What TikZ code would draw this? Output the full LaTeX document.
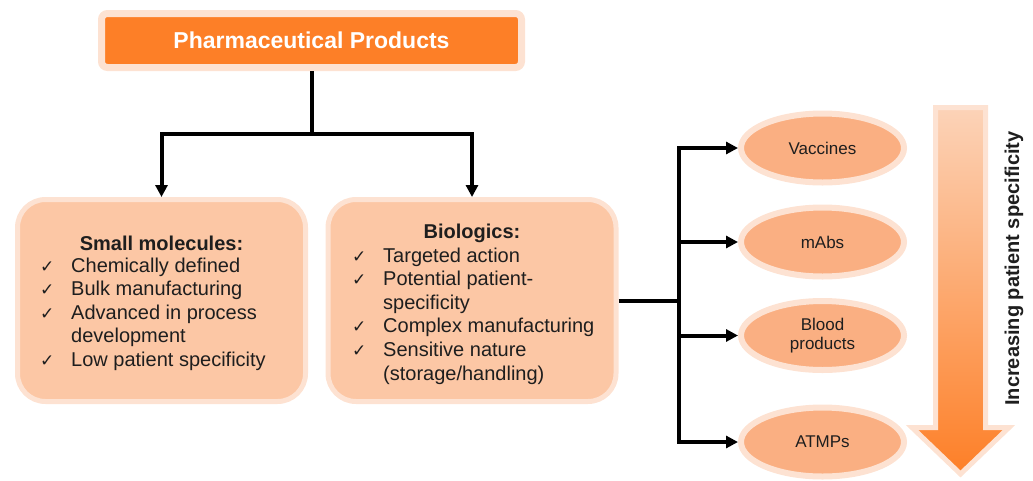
\documentclass[tikz,border=0pt]{standalone}
\usepackage{fontspec}
\setmainfont{Liberation Sans}
\newfontfamily\chkfont{DejaVu Sans}
\usepackage{tikz}
\usetikzlibrary{arrows.meta,shapes.geometric}

\definecolor{orange_main}{HTML}{FD7F27}
\definecolor{border_light}{HTML}{FDE2D2}
\definecolor{box_fill}{HTML}{FCC7A5}
\definecolor{ell_fill}{HTML}{FAAF82}
\definecolor{arrow_top}{HTML}{FCD3B8}
\definecolor{txt}{HTML}{1E1E1E}

\newcommand{\ck}{\makebox[31pt][l]{\chkfont\fontsize{17}{17}\selectfont ✓}}
\newcommand{\sk}{\hspace*{31pt}}

\begin{document}
\begin{tikzpicture}[
		x=1pt, y=-1pt,
		every node/.style={text=txt},
		titlebox/.style={rectangle, rounded corners=6pt, fill=orange_main, draw=border_light,
			line width=7pt, minimum width=420pt, minimum height=54pt, text=white,
			font=\bfseries\fontsize{23}{27}\selectfont},
		groupbox/.style={rectangle, rounded corners=28pt, fill=box_fill, draw=border_light,
			line width=5pt, minimum width=288pt, minimum height=202pt},
		heading/.style={inner sep=0pt, font=\bfseries\fontsize{20}{23.6}\selectfont},
		items/.style={inner sep=0pt, align=left, font=\fontsize{20}{23.6}\selectfont},
		kind/.style={ellipse, fill=ell_fill, draw=border_light, line width=6pt,
			minimum width=163pt, minimum height=69pt, inner sep=0pt, align=center,
			font=\fontsize{17}{19}\selectfont},
		link/.style={line width=4pt, >={Triangle[length=12pt,width=12pt]}}
	]
  \useasboundingbox (0,0) rectangle (1033,480);

  \node (pharma) [titlebox] at (311.5,40.5) {Pharmaceutical Products};

  \node (small_mol) [groupbox] at (161.5,300.5) {};
  \node (bio) [groupbox] at (472,300.5) {};

  \node (small_head) [heading, anchor=base] at (161.5,250) {Small molecules:};
  \node (small_list) [items, anchor=north west] at (40,257.4)
    {\ck Chemically defined\\ \ck Bulk manufacturing\\ \ck Advanced in process\\
     \sk development\\ \ck Low patient specificity};

  \node (bio_head) [heading, anchor=base] at (472,238) {Biologics:};
  \node (bio_list) [items, anchor=north west] at (352,247.4)
    {\ck Targeted action\\ \ck Potential patient-\\ \sk specificity\\
     \ck Complex manufacturing\\ \ck Sensitive nature\\ \sk (storage/handling)};

  \node (vaccines) [kind] at (822.5,148) {Vaccines};
  \node (mabs) [kind] at (822.5,242) {mAbs};
  \node (blood) [kind] at (822.5,335.5) {Blood\\products};
  \node (atmps) [kind] at (822.5,442) {ATMPs};

  \coordinate (split) at (311.5,134);
  \coordinate (hub) at (679,300.5);

  \draw [link] (pharma.south) -- (split);
  \draw [link, ->] (split) -| (small_mol.north);
  \draw [link, ->] (split) -| (bio.north);

  \draw [link] (bio.east) -- (hub);
  \draw [link, ->] (hub) |- (vaccines.west);
  \draw [link, ->] (hub) |- (mabs.west);
  \draw [link, ->] (hub) |- (blood.west);
  \draw [link, ->] (hub) |- (atmps.west);

  \shadedraw [top color=arrow_top, bottom color=orange_main, draw=border_light, line width=5pt]
    (935.5,107.5) -- (985.5,107.5) -- (985.5,427.5) -- (1009,427.5)
    -- (960.5,474) -- (912,427.5) -- (935.5,427.5) -- cycle;

  \node (trend) [heading, anchor=base, rotate=90] at (1019,268.5) {Increasing patient specificity};
\end{tikzpicture}
\end{document}
